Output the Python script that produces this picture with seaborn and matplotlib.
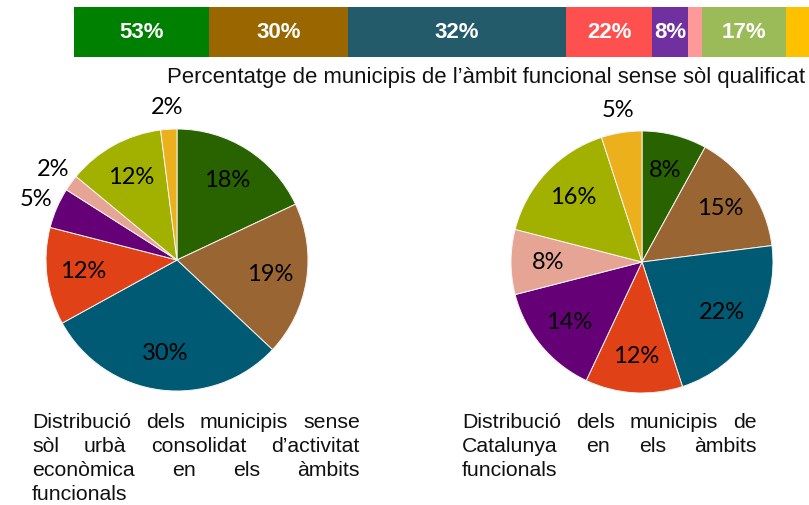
import matplotlib
matplotlib.use("Agg")
import matplotlib.pyplot as plt
import seaborn as sns

sns.set_theme(style="white")
plt.rcParams["font.family"] = ["Liberation Sans", "DejaVu Sans"]

W, H = 809, 505

# barra superior: pes de cada ambit i % de municipis sense sol qualificat
bar_widths = [18.5, 19.0, 29.9, 11.8, 4.9, 1.9, 11.6, 3.5]
bar_labels = ["53%", "30%", "32%", "22%", "8%", "", "17%", ""]
bar_colors = ["#008000", "#996600", "#235b6a", "#ff5050",
              "#7030a0", "#ff9999", "#9bbb59", "#ffc000"]

# pastissos (mateix ordre d'ambits)
pie_sense_sol = [18, 19, 30, 12, 5, 2, 12, 2]
pie_catalunya = [8, 15, 22, 12, 14, 8, 16, 5]
pie_colors = sns.color_palette(["#296300", "#996633", "#005a73", "#e04116",
                                "#660077", "#e6a594", "#a2b000", "#ebb01c"])

titol = "Percentatge de municipis de l\u2019àmbit funcional sense sòl qualificat"
peu_esq = ["Distribució dels municipis sense",
           "sòl urbà consolidat d\u2019activitat",
           "econòmica en els àmbits",
           "funcionals"]
peu_dre = ["Distribució dels municipis de",
           "Catalunya en els àmbits",
           "funcionals"]


def caixa(left, top, w, h):
    """Converteix una caixa en pixels (des de dalt) a fraccions de figura."""
    return [left / W, 1 - (top + h) / H, w / W, h / H]


def pastis(ax, valors):
    etiquetes_fora = [f"{v}%" if v <= 5 else "" for v in valors]
    wedges, textos, autotextos = ax.pie(
        valors,
        labels=etiquetes_fora,
        colors=pie_colors,
        startangle=90,
        counterclock=False,
        autopct=lambda p: f"{p:.0f}%" if p > 5.5 else "",
        pctdistance=0.72,
        labeldistance=1.17,
        wedgeprops=dict(edgecolor="#f4f4f4", linewidth=0.7),
        textprops=dict(family=["Lato", "DejaVu Sans"], fontsize=17, color="black"),
    )
    for t in textos:
        t.set_horizontalalignment("center")
        t.set_verticalalignment("center")
    ax.set_xlim(-1.25, 1.25)
    ax.set_ylim(-1.25, 1.25)
    ax.set_aspect("equal")


def text_justificat(fig, linies, x0, x1, y0, salt, mida):
    renderer = fig.canvas.get_renderer()
    for i, linia in enumerate(linies):
        y = 1 - (y0 + i * salt) / H
        paraules = linia.split()
        if i == len(linies) - 1 or len(paraules) == 1:
            fig.text(x0 / W, y, linia, fontsize=mida, va="baseline", color="#111111")
            continue
        textos = [fig.text(0, y, p, fontsize=mida, va="baseline", color="#111111")
                  for p in paraules]
        amples = [t.get_window_extent(renderer).width for t in textos]
        espai = (x1 - x0 - sum(amples)) / (len(paraules) - 1)
        x = x0
        for t, a in zip(textos, amples):
            t.set_x(x / W)
            x += a + espai


fig = plt.figure(figsize=(W / 100, H / 100), dpi=100)
fig.patch.set_facecolor("white")

# barra apilada
ax_bar = fig.add_axes(caixa(74, 7, W - 74, 50))
esquerra = 0
for w, lab, c in zip(bar_widths, bar_labels, bar_colors):
    ax_bar.barh(0, w, left=esquerra, height=1, color=c, linewidth=0)
    if lab:
        ax_bar.text(esquerra + w / 2, 0, lab, ha="center", va="center",
                    color="white", fontsize=16, fontweight="bold")
    esquerra += w
ax_bar.set_xlim(0, (W - 74) / 7.3)
ax_bar.set_ylim(-0.5, 0.5)
ax_bar.axis("off")

fig.text(805 / W, 1 - 83.5 / H, titol, ha="right", va="baseline",
         fontsize=15.9, color="#111111")

# pastissos
r = 131
costat = 2.5 * r
ax_esq = fig.add_axes(caixa(177 - costat / 2, 260 - costat / 2, costat, costat))
pastis(ax_esq, pie_sense_sol)
ax_dre = fig.add_axes(caixa(642 - costat / 2, 262 - costat / 2, costat, costat))
pastis(ax_dre, pie_catalunya)

text_justificat(fig, peu_esq, 32, 360, 428, 24, 15.3)
text_justificat(fig, peu_dre, 462, 757, 428, 24, 15.3)

fig.savefig("out.png", dpi=100, facecolor="white")
plt.close(fig)
